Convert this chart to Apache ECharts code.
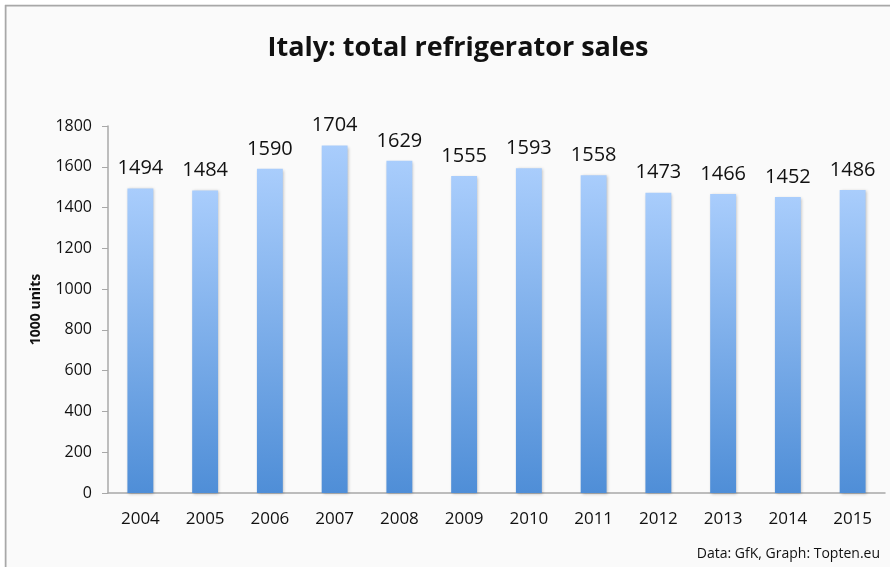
<!DOCTYPE html>
<html><head><meta charset="utf-8">
<script src="https://cdn.jsdelivr.net/npm/echarts@6/dist/echarts.min.js"></script>
<style>html,body{margin:0;padding:0;background:#fff}#c{width:890px;height:567px}</style>
</head><body><div id="c"></div>
<script>
var years = ['2004','2005','2006','2007','2008','2009','2010','2011','2012','2013','2014','2015'];
var sales = [1494,1484,1590,1704,1629,1555,1593,1558,1473,1466,1452,1486];
var yTicks = {min:0, max:1800, interval:200};
var chart = echarts.init(document.getElementById('c'));
var font = 'Open Sans';
chart.setOption({
  backgroundColor:'#fafafa',
  animation:false,
  graphic:[
    {type:'line', shape:{x1:5,y1:5.5,x2:890,y2:5.5}, style:{stroke:'#a8a8a8',lineWidth:2}},
    {type:'line', shape:{x1:5.5,y1:5,x2:5.5,y2:567}, style:{stroke:'#a8a8a8',lineWidth:2}},
    {type:'rect', shape:{x:0,y:0,width:4.5,height:567}, style:{fill:'#fff'}},
    {type:'rect', shape:{x:0,y:0,width:890,height:4.5}, style:{fill:'#fff'}}
  ],
  title:[{
    text:'Italy: total refrigerator sales', left:453, top:30, textAlign:'center',
    textStyle:{fontFamily:font, fontSize:27, fontWeight:'bold', color:'#111'}
  },{
    text:'Data: GfK, Graph: Topten.eu', right:5, top:542,
    textStyle:{fontFamily:font, fontSize:14, fontWeight:'normal', color:'#111'}
  }],
  grid:{left:108, right:5, top:126, bottom:74},
  xAxis:{
    type:'category', data:years,
    axisLine:{lineStyle:{color:'#a8a8a8', width:1.5}},
    axisTick:{alignWithLabel:false, length:6, lineStyle:{color:'#a8a8a8'}},
    axisLabel:{fontFamily:font, fontSize:17, color:'#111', margin:18}
  },
  yAxis:{
    type:'value', min:yTicks.min, max:yTicks.max, interval:yTicks.interval,
    name:'1000 units', nameLocation:'middle', nameGap:65, nameRotate:90,
    nameTextStyle:{fontFamily:font, fontSize:14, fontWeight:'bold', color:'#111'},
    splitLine:{show:false},
    axisLine:{show:true, lineStyle:{color:'#a8a8a8', width:1.5}},
    axisTick:{show:true, length:6, lineStyle:{color:'#a8a8a8'}},
    axisLabel:{fontFamily:font, fontSize:16, color:'#111', margin:16, formatter:function(v){return String(v);}}
  },
  series:[{
    type:'bar', data:sales, barWidth:'40%',
    itemStyle:{
      color:new echarts.graphic.LinearGradient(0,0,0,1,[{offset:0,color:'#a9cdfc'},{offset:1,color:'#4f8ed7'}]),
      shadowColor:'rgba(0,0,0,0.25)', shadowBlur:3, shadowOffsetX:1, shadowOffsetY:1
    },
    label:{show:true, position:'top', distance:10, fontFamily:font, fontSize:20, color:'#111'}
  }]
});
</script></body></html>
